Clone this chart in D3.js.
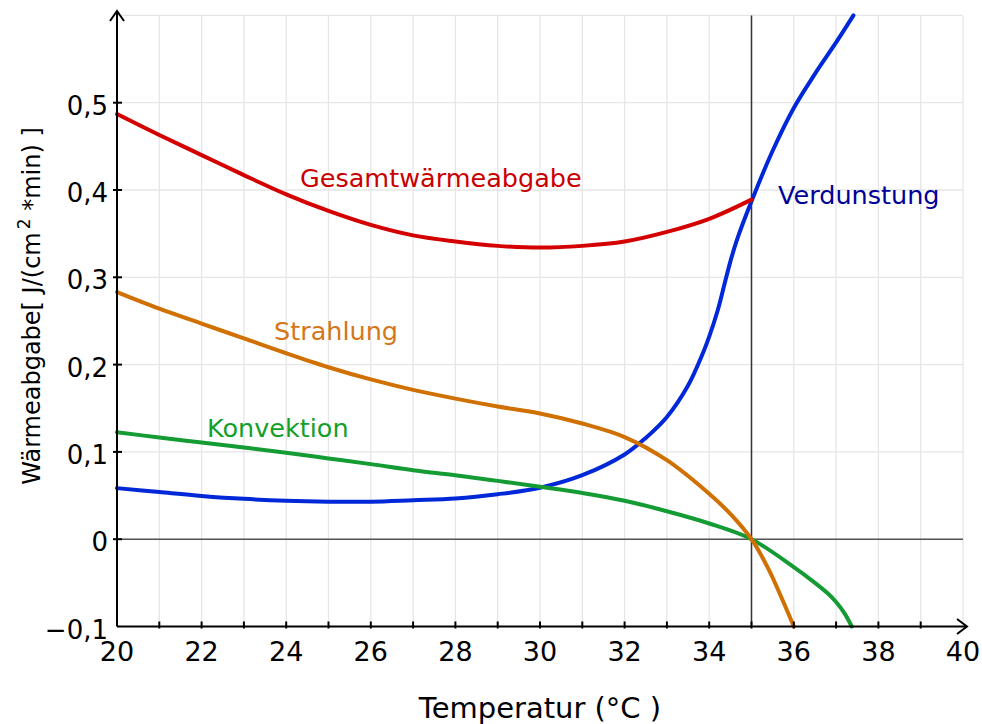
<!DOCTYPE html>
<html>
<head>
<meta charset="utf-8">
<script src="https://cdn.jsdelivr.net/npm/d3@7"></script>
<style>
  html, body { margin: 0; padding: 0; background: #fff; }
  svg { display: block; font-family: "DejaVu Sans", sans-serif; }
</style>
</head>
<body>
<svg id="chart" width="982" height="724"></svg>
<script>
// ---- Data ----
const xTickLabels = [20, 22, 24, 26, 28, 30, 32, 34, 36, 38, 40];
const yTickValues = [-0.1, 0, 0.1, 0.2, 0.3, 0.4, 0.5];
const yTickLabels = ["−0,1", "0", "0,1", "0,2", "0,3", "0,4", "0,5"];

const gesamtX = [20, 21, 22, 23, 24, 25, 26, 27, 28, 29, 30, 31, 32, 33, 34, 35];
const gesamtY = [0.487, 0.463, 0.440, 0.417, 0.395, 0.376, 0.360, 0.348, 0.341, 0.336, 0.334, 0.336, 0.341, 0.352, 0.367, 0.389];

const strahlungX = [20, 21, 22, 23, 24, 25, 26, 27, 28, 29, 30, 31, 32, 33, 34, 34.5, 35, 35.4, 35.7, 36];
const strahlungY = [0.283, 0.264, 0.247, 0.230, 0.213, 0.197, 0.183, 0.171, 0.161, 0.152, 0.144, 0.1325, 0.117, 0.0905, 0.052, 0.029, 0.0, -0.034, -0.066, -0.1];

const konvektionX = [20, 21, 22, 23, 24, 25, 26, 27, 28, 29, 30, 31, 32, 33, 34, 35, 36, 36.5, 36.8, 37, 37.2, 37.37];
const konvektionY = [0.1225, 0.1165, 0.1108, 0.105, 0.099, 0.0925, 0.086, 0.079, 0.0733, 0.0668, 0.060, 0.053, 0.044, 0.032, 0.018, 0.0, -0.032, -0.050, -0.062, -0.072, -0.085, -0.1];

const verdunstungX = [20, 21, 22, 23, 24, 25, 26, 27, 28, 29, 30, 31, 32, 32.5, 33, 33.5, 33.85, 34, 34.2, 34.35, 34.5, 34.65, 35, 35.5, 36, 36.5, 37, 37.41];
const verdunstungY = [0.0585, 0.054, 0.0496, 0.0462, 0.044, 0.043, 0.043, 0.0447, 0.0466, 0.0515, 0.059, 0.0733, 0.097, 0.116, 0.140, 0.176, 0.213, 0.232, 0.262, 0.290, 0.318, 0.342, 0.387, 0.445, 0.494, 0.533, 0.569, 0.600];

const seriesNames = ["Verdunstung", "Konvektion", "Strahlung", "Gesamtwärmeabgabe"];

// ---- Layout ----
const svg = d3.select("#chart");
const x = d3.scaleLinear().domain([20, 40]).range([117, 963]);
const y = d3.scaleLinear().domain([-0.1, 0.6]).range([626.5, 15.4]);

// Grid
const grid = svg.append("g").attr("stroke", "#e6e6e6").attr("stroke-width", 1.3);
grid.selectAll("line.v").data(d3.range(21, 41)).join("line")
  .attr("x1", d => x(d)).attr("x2", d => x(d))
  .attr("y1", y(0.6)).attr("y2", y(-0.1));
grid.selectAll("line.h").data(d3.range(0, 7).map(i => i / 10)).join("line")
  .attr("x1", x(20)).attr("x2", x(40))
  .attr("y1", d => y(d)).attr("y2", d => y(d));

// Zero line & 35°C line
svg.append("line").attr("x1", x(20)).attr("x2", x(40)).attr("y1", y(0)).attr("y2", y(0))
  .attr("stroke", "#555").attr("stroke-width", 1.5);
svg.append("line").attr("x1", x(35)).attr("x2", x(35)).attr("y1", y(0.6)).attr("y2", y(-0.1))
  .attr("stroke", "#333").attr("stroke-width", 1.5);

// Curves
const line = d3.line().x(d => x(d[0])).y(d => y(d[1])).curve(d3.curveCatmullRom.alpha(0.5));
const curves = [
  { xs: verdunstungX, ys: verdunstungY, color: "#0028d8" },
  { xs: konvektionX, ys: konvektionY, color: "#149b34" },
  { xs: strahlungX, ys: strahlungY, color: "#d07000" },
  { xs: gesamtX, ys: gesamtY, color: "#d40000" }
];
curves.forEach(c => {
  svg.append("path")
    .attr("d", line(c.xs.map((v, i) => [v, c.ys[i]])))
    .attr("fill", "none").attr("stroke", c.color)
    .attr("stroke-width", 4).attr("stroke-linecap", "round");
});

// Axes
const axes = svg.append("g").attr("stroke", "#000").attr("fill", "none");
axes.append("line").attr("x1", x(20)).attr("x2", 966).attr("y1", y(-0.1)).attr("y2", y(-0.1)).attr("stroke-width", 2);
axes.append("line").attr("x1", x(20)).attr("x2", x(20)).attr("y1", y(-0.1)).attr("y2", 11).attr("stroke-width", 2);
axes.append("path").attr("d", `M957,619L967,${y(-0.1)}L957,634`).attr("stroke-width", 2);
axes.append("path").attr("d", `M${x(20) - 7},21L${x(20)},11L${x(20) + 7},21`).attr("stroke-width", 2);
axes.selectAll("line.xt").data(d3.range(21, 40)).join("line")
  .attr("x1", d => x(d)).attr("x2", d => x(d))
  .attr("y1", y(-0.1) - 5).attr("y2", y(-0.1) + 2).attr("stroke-width", 2);
axes.selectAll("line.yt").data(d3.range(0, 6).map(i => i / 10)).join("line")
  .attr("x1", x(20) - 4).attr("x2", x(20) + 5)
  .attr("y1", d => y(d)).attr("y2", d => y(d)).attr("stroke-width", 2);

// Tick labels
svg.append("g").selectAll("text").data(xTickLabels).join("text")
  .attr("x", d => x(d)).attr("y", 661)
  .attr("text-anchor", "middle").attr("font-size", 27).attr("fill", "#000")
  .text(d => d);
svg.append("g").selectAll("text").data(yTickValues).join("text")
  .attr("x", 108).attr("y", d => y(d) + 12)
  .attr("text-anchor", "end").attr("font-size", 26).attr("fill", "#000")
  .text((d, i) => yTickLabels[i]);

// Axis titles
svg.append("text").attr("x", x(30)).attr("y", 718)
  .attr("text-anchor", "middle").attr("font-size", 29).attr("fill", "#000")
  .text("Temperatur (°C )");
const yt = svg.append("text")
  .attr("transform", "translate(40,306) rotate(-90)")
  .attr("text-anchor", "middle").attr("font-size", 24).attr("fill", "#000");
yt.append("tspan").text("Wärmeabgabe[ J/(cm");
yt.append("tspan").attr("font-size", 17).attr("dy", -10).attr("dx", 3).text("2");
yt.append("tspan").attr("dy", 10).text(" *min) ]");

// Series labels
const labels = [
  { text: seriesNames[3], x: 300, y: 187, color: "#c80000" },
  { text: seriesNames[0], x: 778, y: 204, color: "#000099" },
  { text: seriesNames[2], x: 274, y: 340, color: "#d5761a" },
  { text: seriesNames[1], x: 207, y: 437, color: "#13a02a" }
];
svg.append("g").selectAll("text").data(labels).join("text")
  .attr("x", d => d.x).attr("y", d => d.y)
  .attr("font-size", 25.5).attr("fill", d => d.color)
  .text(d => d.text);
</script>
</body>
</html>
